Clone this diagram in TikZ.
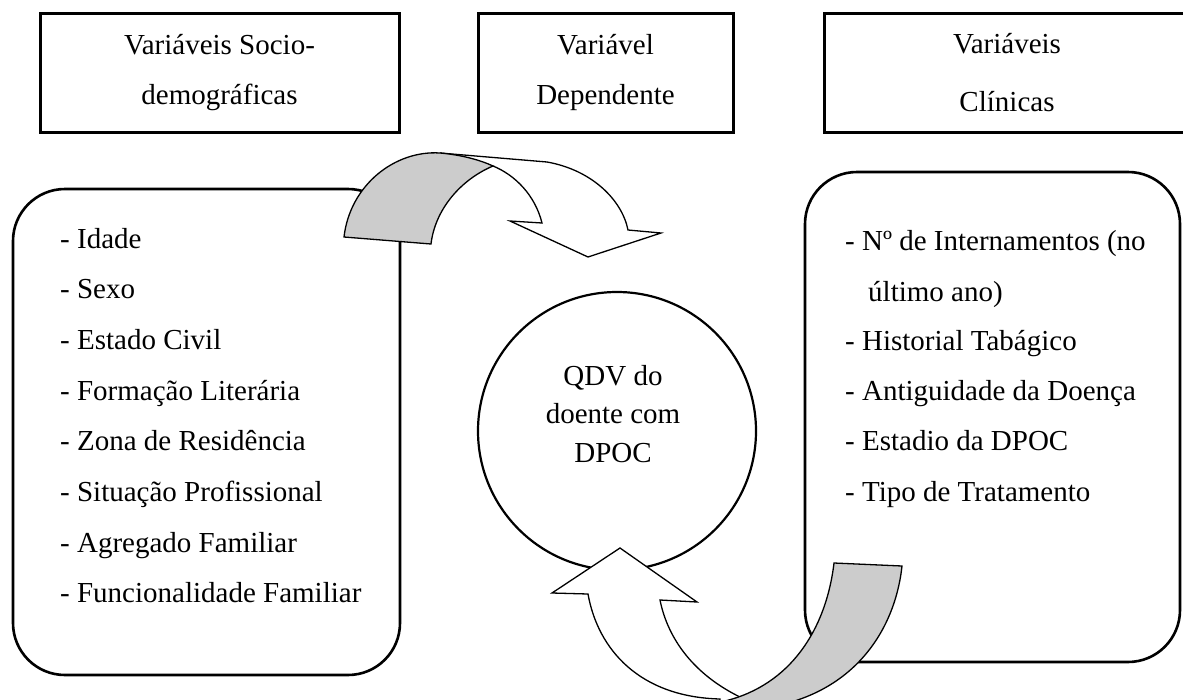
\documentclass[tikz,border=0pt]{standalone}
\usepackage{fontspec}
\setmainfont{Liberation Serif}
\usetikzlibrary{positioning}

\begin{document}
\begin{tikzpicture}[x=1pt,y=-1pt,
  varbox/.style={draw,line width=3pt,minimum height=119pt,align=center,font=\fontsize{29}{50}\selectfont},
  roundbox/.style={draw,line width=2.6pt,rounded corners=52pt},
  item/.style={anchor=base west,inner sep=0pt,font=\fontsize{29}{35}\selectfont},
  band/.style={line width=1.3pt,line join=miter}]
\useasboundingbox (0,0) rectangle (1183,699);
\clip (0,0) rectangle (1183,699);
% title boxes
\node[varbox,minimum width=359pt] (socio) at (219.5,72.5) {Variáveis Socio-\\demográficas};
\node[varbox,minimum width=255pt] (dep) at (605.5,72.5) {Variável\\Dependente};
\node[varbox,minimum width=366pt,font=\fontsize{29}{58}\selectfont] (clin) at (1007,72.5) {Variáveis\\Clínicas};
% lists
\node[roundbox,minimum width=387pt,minimum height=486pt] (socbox) at (206.5,432) {};
\node[roundbox,minimum width=375pt,minimum height=490pt] (clinbox) at (992.5,417) {};
\foreach \txt [count=\i] in {Idade,Sexo,Estado Civil,Formação Literária,Zona de Residência,Situação Profissional,Agregado Familiar,Funcionalidade Familiar}
  \node[item] (soc\i) at (60,{248+50.7*(\i-1)}) {- \txt};
\node[item] (clin1) at (845,250) {- Nº de Internamentos (no};
\node[item] (clin1b) at (868,301) {último ano)};
\node[item] (clin2) at (845,350) {- Historial Tabágico};
\node[item] (clin3) at (845,400) {- Antiguidade da Doença};
\node[item] (clin4) at (845,450) {- Estadio da DPOC};
\node[item] (clin5) at (845,501) {- Tipo de Tratamento};
% centre
\node[circle,draw,line width=2.2pt,minimum size=278pt] (qdv) at (617,431) {};
\node[align=center,font=\fontsize{29}{38.5}\selectfont] (qdvtxt) at (613,414) {QDV do\\doente com\\DPOC};
% curved arrow, top
\filldraw[band,fill=white] (440,153) -- (547,162) .. controls (592,170) and (622,200) .. (628,230)
  -- (661,233) -- (588,257) -- (510,221) -- (542,223)
  .. controls (535,195) and (515,175) .. (493,166) -- cycle;
\filldraw[band,fill=black!20] (344,237) .. controls (350,185) and (395,150) .. (440,153)
  .. controls (462,155) and (480,160) .. (493,166)
  .. controls (460,180) and (435,210) .. (431,244) -- cycle;
% curved arrow, bottom
\filldraw[band,fill=white] (588,594) -- (552,593) -- (620,548) -- (697,602) -- (660,600)
  .. controls (668,640) and (695,675) .. (740,697) -- (740,712) -- (720,712) -- (720,699)
  .. controls (640,697) and (598,650) .. (588,594) -- cycle;
\filldraw[band,fill=black!20] (834,563) -- (902,566) .. controls (895,630) and (855,690) .. (775,706)
  -- (760,715) -- (720,715) -- (725,701)
  .. controls (790,685) and (826,630) .. (834,563) -- cycle;
\end{tikzpicture}
\end{document}
